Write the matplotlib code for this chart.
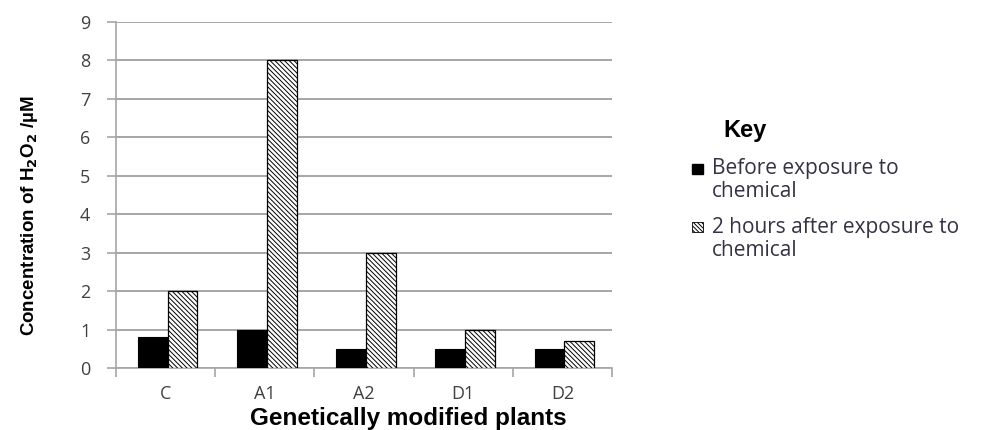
import matplotlib.pyplot as plt
import numpy as np
from matplotlib.patches import Rectangle

plt.rcParams['hatch.linewidth'] = 0.7

PLANTS = ['C', 'A1', 'A2', 'D1', 'D2']
BEFORE = [0.8, 1.0, 0.5, 0.5, 0.5]
AFTER = [2.0, 8.0, 3.0, 1.0, 0.7]
SERIES_LABELS = [['Before exposure to', 'chemical'], ['2 hours after exposure to', 'chemical']]
Y_TICKS = list(range(0, 10))

GRID = '#a6a6a6'
TEXT = '#404040'
HATCH = '\\' * 7

W, H = 984, 430
fig = plt.figure(figsize=(W / 100, H / 100), dpi=100)
ax = fig.add_axes([116 / W, 1 - 368 / H, 496 / W, 346 / H])


def fx(px):
    return px / W


def fy(py):
    return 1 - py / H


x = np.arange(len(PLANTS))
w = 0.3
ax.bar(x - w / 2 + 0.02, BEFORE, w, color='black', edgecolor='black', linewidth=0.8, zorder=3)
ax.bar(x + w / 2 + 0.02, AFTER, w, color='white', edgecolor='black', hatch=HATCH, linewidth=0.9, zorder=3)

ax.set_xlim(-0.5, 4.5)
ax.set_ylim(0, 9)
ax.set_yticks(Y_TICKS)
ax.set_yticklabels([str(t) for t in Y_TICKS], fontfamily='Open Sans', fontsize=13, color=TEXT)
ax.set_xticks(x)
ax.set_xticklabels(PLANTS, fontfamily='Open Sans', fontsize=13, color=TEXT)
ax.set_xticks(np.arange(-0.5, 5, 1), minor=True)
ax.tick_params(axis='x', which='major', length=0, pad=12)
ax.tick_params(axis='x', which='minor', length=6.5, color=GRID, width=1.2)
ax.tick_params(axis='y', length=6.5, color=GRID, width=1.2, pad=12)

ax.yaxis.grid(True, color=GRID, linewidth=1.4, zorder=0)
ax.set_axisbelow(True)
for side in ['top', 'right']:
    ax.spines[side].set_visible(False)
for side in ['left', 'bottom']:
    ax.spines[side].set_color(GRID)
    ax.spines[side].set_linewidth(1.2)

fig.text(fx(30), fy(216), 'Concentration of H$_\\mathbf{2}$O$_\\mathbf{2}$ /µM', rotation=90,
         ha='center', va='center', fontsize=13.5, fontweight='bold',
         family=['Liberation Sans', 'DejaVu Sans'])
fig.text(fx(408), fy(419), 'Genetically modified plants', ha='center', va='center',
         fontsize=17.5, fontweight='bold', family=['Liberation Sans', 'DejaVu Sans'])

# key (drawn by hand so the swatch sits on the first line, as in the original)
fig.text(fx(723), fy(137), 'Key', ha='left', va='baseline', fontsize=17,
         fontweight='bold', family=['Liberation Sans', 'DejaVu Sans'])
swatch_top = [164, 222]
baselines = [174, 233]
styles = [dict(facecolor='black', edgecolor='black'),
          dict(facecolor='white', edgecolor='black', hatch='\\' * 8, linewidth=0.6)]
for top, base, style, lines in zip(swatch_top, baselines, styles, SERIES_LABELS):
    fig.add_artist(Rectangle((fx(692), fy(top + 10)), 11 / W, 10 / H,
                             transform=fig.transFigure, **style))
    for i, line in enumerate(lines):
        fig.text(fx(712), fy(base + 23.5 * i), line, ha='left', va='baseline',
                 fontsize=15, family='Open Sans', color='#333344')

fig.savefig('out.png', dpi=100)
